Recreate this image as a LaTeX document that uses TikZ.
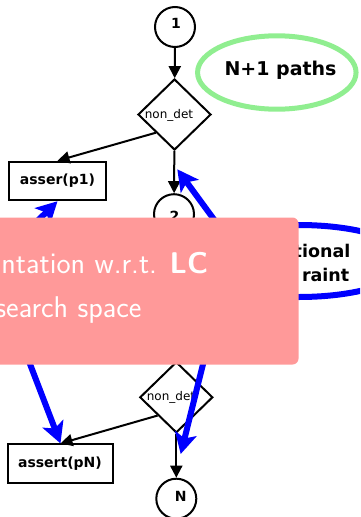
\documentclass[tikz,border=0pt]{standalone}
\usepackage{fontspec}
\setmainfont{DejaVu Sans}
\usetikzlibrary{arrows.meta,shapes.geometric}
\definecolor{panelpink}{RGB}{255,153,153}
\definecolor{pathgreen}{RGB}{144,238,144}
\begin{document}
\begin{tikzpicture}[x=1pt,y=-1pt,
  state/.style={circle,draw,line width=2pt,minimum size=40pt,inner sep=0pt},
  choice/.style={diamond,draw,line width=2pt,minimum width=73pt,minimum height=71pt,inner sep=0pt},
  stmt/.style={rectangle,draw,line width=2pt,minimum height=38.5pt,inner sep=0pt},
  numtxt/.style={font=\bfseries\fontsize{14}{16}\selectfont,inner sep=0pt},
  choicetxt/.style={font=\fontsize{12}{14}\selectfont,inner sep=0pt},
  stmttxt/.style={font=\bfseries\fontsize{14}{16}\selectfont,inner sep=0pt},
  flow/.style={line width=2pt,-{Triangle[length=12pt,width=12pt]}},
  hint/.style={blue,line width=6pt,-{Stealth[length=21pt,width=22pt,inset=5pt]}},
  panel/.style={fill=panelpink,rounded corners=6pt,inner sep=0pt},
  paneltxt/.style={text=white,inner sep=0pt,font=\sffamily\fontsize{30}{36}\selectfont}]
\useasboundingbox (0,0) rectangle (360,517);
\clip (0,0) rectangle (360,517);

% control flow graph
\node[state] (c1) at (175,27) {};
\node[numtxt] at (176,23.3) {1};
\node[choice] (d1) at (174.5,114.5) {};
\node[choicetxt] at (169,115) {non\_det};
\node[stmt,minimum width=97pt] (p1) at (57.5,181) {};
\node[stmttxt] at (57.5,181) {asser(p1)};
\node[state] (c2) at (174,214.2) {};
\node[numtxt] at (174.5,216) {2};
\node[choice] (d2) at (176.3,397.3) {};
\node[choicetxt] at (171,397.3) {non\_det};
\node[stmt,minimum width=105.6pt] (pN) at (60.5,463.7) {};
\node[stmttxt] at (60,463.3) {assert(pN)};
\node[state] (cN) at (176.3,498.7) {};
\node[numtxt] at (180.7,496.7) {N};

\draw[flow] (c1) -- (d1);
\draw[flow] (d1.south west) -- (p1.north);
\draw[flow] (d1) -- (c2);
\draw[flow] (d2.south west) -- (pN.north);
\draw[flow] (d2) -- (cN);

% path count
\node[ellipse,draw=pathgreen,line width=5pt,minimum width=158.5pt,minimum height=73.4pt] (paths) at (276.8,72.5) {};
\node[font=\bfseries\fontsize{19}{22}\selectfont,inner sep=0pt] at (280.5,70) {N+1 paths};

% constraint bubble
\node[ellipse,draw=blue,line width=6pt,minimum width=220pt,minimum height=72pt] (cons) at (299,261) {};
\node[anchor=base east,inner sep=0pt,font=\bfseries\fontsize{17.5}{20}\selectfont] at (350.5,257.3) {tional};
\node[anchor=base east,inner sep=0pt,font=\bfseries\fontsize{17.5}{20}\selectfont] at (349.5,281.7) {raint};

% guided paths
\coordinate (s1) at (16.5,241.5);
\coordinate (s2) at (20,338);
\coordinate (s3) at (229,240);
\coordinate (t3) at (177.3,169.3);
\coordinate (s4) at (209,340);
\coordinate (t4) at (180.7,454);
\draw[hint] (s1) -- (p1.south);
\draw[hint] (s2) -- (pN.north);
\draw[hint] (s3) -- (t3);
\draw[hint] (s4) -- (t4);

% overlay panel
\node[panel,anchor=north west,minimum width=318.3pt,minimum height=147pt] (box) at (-20,217.3) {};
\node[paneltxt,anchor=base east] at (208.3,273.3) {ntation w.r.t. \textbf{LC}};
\node[paneltxt,anchor=base east] at (141.7,317.3) {search space};
\end{tikzpicture}
\end{document}
